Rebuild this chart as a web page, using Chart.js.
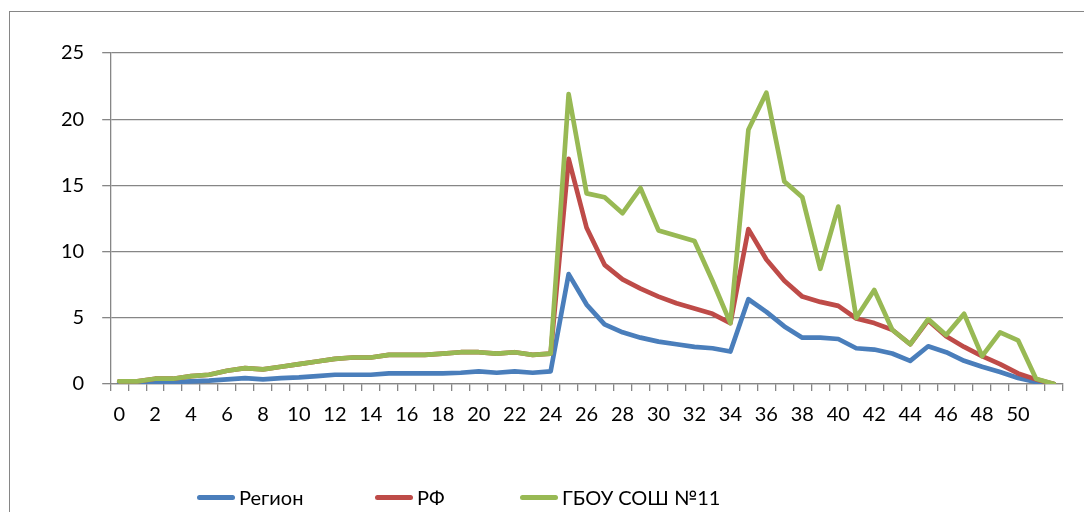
<!DOCTYPE html>
<html>
<head>
<meta charset="utf-8">
<script src="https://cdn.jsdelivr.net/npm/chart.js@4"></script>
<style>
  body { margin: 0; background: #fff; font-family: Lato, sans-serif; }
  #wrap { position: relative; width: 1084px; height: 512px; overflow: hidden; }
  #frame { position: absolute; left: 9px; top: 11px; width: 1090px; height: 520px; border: 1.5px solid #868686; }
  #chart { position: absolute; left: 0; top: 0; }
  #legend { position: absolute; left: 197px; top: 485px; display: flex; font-size: 20px; color: #000; }
  #legend .item { display: flex; align-items: center; gap: 4px; }
  #legend .item:nth-child(1) { width: 178px; }
  #legend .item:nth-child(2) { width: 145px; }
  #legend .swatch { width: 38px; height: 5px; border-radius: 3px; }
</style>
</head>
<body>
<div id="wrap">
  <div id="frame"></div>
  <canvas id="chart" width="1084" height="512"></canvas>
  <div id="legend"></div>
</div>
<script>
// категории 0..52 (подпись у последней пустая)
const categories = ['0','1','2','3','4','5','6','7','8','9','10','11','12','13','14','15','16','17','18','19','20',
  '21','22','23','24','25','26','27','28','29','30','31','32','33','34','35','36','37','38','39','40',
  '41','42','43','44','45','46','47','48','49','50','51','']

const seriesNames = ['Регион', 'РФ', 'ГБОУ СОШ №11']

const region = [0.1, 0.1, 0.1, 0.15, 0.2, 0.25, 0.35, 0.45, 0.35, 0.45, 0.5, 0.6, 0.7, 0.7, 0.7, 0.8, 0.8, 0.8, 0.8, 0.85, 0.95,
  0.85, 0.95, 0.85, 0.95, 8.3, 6.0, 4.5, 3.9, 3.5, 3.2, 3.0, 2.8, 2.7, 2.45, 6.4, 5.45, 4.35, 3.5, 3.5, 3.4,
  2.7, 2.6, 2.3, 1.75, 2.85, 2.4, 1.75, 1.3, 0.9, 0.45, 0.15, 0.0]

const rf = [0.2, 0.2, 0.4, 0.4, 0.6, 0.7, 1.0, 1.2, 1.1, 1.3, 1.5, 1.7, 1.9, 2.0, 2.0, 2.2, 2.2, 2.2, 2.3, 2.4, 2.4,
  2.3, 2.4, 2.2, 2.3, 17.0, 11.8, 9.0, 7.9, 7.2, 6.6, 6.1, 5.7, 5.3, 4.6, 11.7, 9.4, 7.8, 6.6, 6.2, 5.9,
  4.95, 4.6, 4.1, 3.0, 4.8, 3.6, 2.8, 2.1, 1.5, 0.8, 0.35, 0.0]

const school = [0.2, 0.2, 0.4, 0.4, 0.6, 0.7, 1.0, 1.2, 1.1, 1.3, 1.5, 1.7, 1.9, 2.0, 2.0, 2.2, 2.2, 2.2, 2.3, 2.4, 2.4,
  2.3, 2.4, 2.2, 2.3, 21.9, 14.4, 14.1, 12.9, 14.8, 11.6, 11.2, 10.8, 7.8, 4.6, 19.2, 22.0, 15.3, 14.1, 8.7, 13.4,
  5.0, 7.1, 4.1, 3.0, 4.9, 3.7, 5.3, 2.1, 3.9, 3.3, 0.4, 0.0]

const yTicks = [0, 5, 10, 15, 20, 25]

const colors = ['#4a7ebb', '#be4b48', '#98b954']
const gridColor = '#868686'

Chart.defaults.font.family = 'Lato, sans-serif'
Chart.defaults.font.size = 20
Chart.defaults.color = '#000'

function makeLine(label, values, color, order) {
  return {
    label: label,
    data: values,
    borderColor: color,
    backgroundColor: color,
    borderWidth: 4.7,
    pointRadius: 0,
    tension: 0,
    borderJoinStyle: 'round',
    borderCapStyle: 'round',
    order: order,
  }
}

let ctx = document.getElementById('chart').getContext('2d')

let chart = new Chart(ctx, {
  type: 'line',
  data: {
    labels: categories,
    datasets: [
      makeLine(seriesNames[0], region, colors[0], 3),
      makeLine(seriesNames[1], rf, colors[1], 2),
      makeLine(seriesNames[2], school, colors[2], 1),
    ],
  },
  options: {
    responsive: false,
    animation: false,
    layout: {
      padding: { left: 43, right: 21, top: 53, bottom: 73 },
    },
    plugins: {
      legend: { display: false },
      tooltip: { enabled: false },
    },
    scales: {
      x: {
        offset: true,
        grid: {
          offset: true,
          drawOnChartArea: false,
          drawTicks: true,
          tickLength: 7,
          color: gridColor,
          lineWidth: 1.3,
        },
        border: { color: gridColor, width: 1.3 },
        ticks: {
          autoSkip: false,
          maxRotation: 0,
          padding: 12,
          callback: function (value, index) {
            return index % 2 === 0 ? categories[index] : ''
          },
        },
      },
      y: {
        min: 0,
        max: 25,
        afterBuildTicks: (axis) => {
          axis.ticks = yTicks.map((v) => ({ value: v }))
        },
        grid: {
          color: gridColor,
          lineWidth: 1.3,
          tickLength: 8,
        },
        border: { color: gridColor, width: 1.3 },
        ticks: { padding: 18 },
      },
    },
  },
})

// легенда из наборов данных
let legend = document.getElementById('legend')
chart.data.datasets.forEach((ds) => {
  let item = document.createElement('div')
  item.className = 'item'
  let sw = document.createElement('span')
  sw.className = 'swatch'
  sw.style.background = ds.borderColor
  let txt = document.createElement('span')
  txt.textContent = ds.label
  item.appendChild(sw)
  item.appendChild(txt)
  legend.appendChild(item)
})
</script>
</body>
</html>
